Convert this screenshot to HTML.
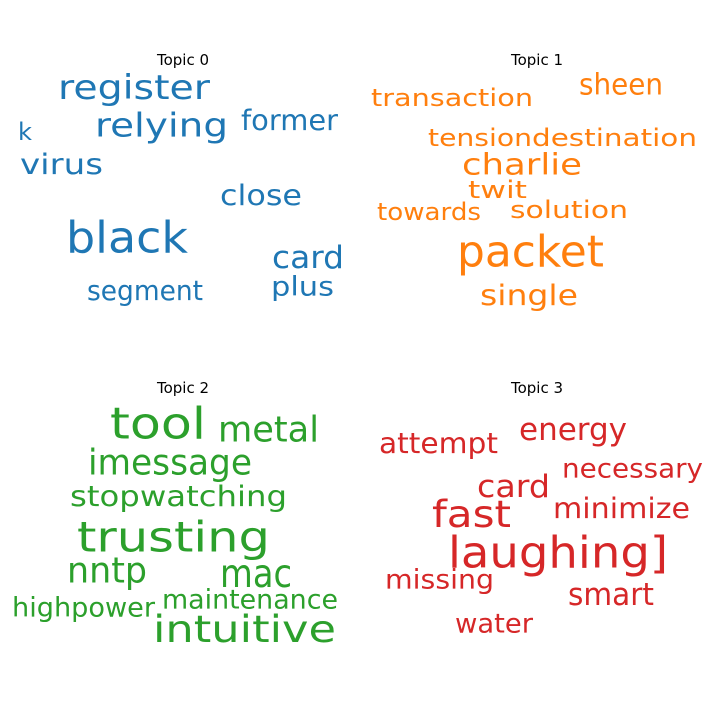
<!DOCTYPE html>
<html><head><meta charset="utf-8"><style>
html,body{margin:0;padding:0;background:#fff;width:720px;height:720px;overflow:hidden}
svg{display:block}
text{font-family:"DejaVu Sans","Liberation Sans",sans-serif}
</style></head><body>
<svg id="c" width="720" height="720" xmlns="http://www.w3.org/2000/svg"></svg>
<script>
const topicTitles=["Topic 0","Topic 1","Topic 2","Topic 3"];
const topicColors=["#1f77b4","#ff7f0e","#2ca02c","#d62728"];
const titleX=[183,537,183,537];
const titleY=[60,60,388,388];
const words0=["register","relying","former","k","virus","close","black","card","plus","segment"];
const sizes0=[31,30,26,22,26,26,40,28,24,25];
const box0=[[58,210,88],[95,228,125],[241,338,120],[18,32,132],[20,103,164],[220,302,195],[66,188,238],[272,344,258],[271,334,287],[87,203,291]];
const words1=["transaction","sheen","tension","destination","charlie","twit","towards","solution","packet","single"];
const sizes1=[22,27,22,22,27,22,22,22,40,26];
const box1=[[371,533,98],[579,663,85],[428,532,138],[532,697,138],[462,582,165],[468,527,190],[377,481,212],[510,628,210],[457,604,252],[480,578,295]];
const words2=["tool","metal","imessage","stopwatching","trusting","nntp","mac","highpower","maintenance","intuitive"];
const sizes2=[40,32,32,26,38,32,36,24,24,34];
const box2=[[110,206,424],[218,319,430],[88,252,463],[70,287,496],[77,270,537],[67,147,571],[220,292,574],[12,155,608],[162,338,600],[153,336,629]];
const words3=["attempt","energy","necessary","card","fast","minimize","laughing]","missing","smart","water"];
const sizes3=[26,28,24,28,34,26,40,24,28,24];
const box3=[[379,498,443],[519,627,430],[562,703,469],[477,550,487],[432,511,514],[553,690,508],[448,668,553],[385,494,580],[568,654,595],[455,533,624]];
const W=[words0,words1,words2,words3],S=[sizes0,sizes1,sizes2,sizes3],B=[box0,box1,box2,box3];
const scale=1.1;
const NS="http://www.w3.org/2000/svg",svg=document.getElementById('c');
for(let t=0;t<4;t++){
  const g=document.createElementNS(NS,'g');
  
  
  const ti=document.createElementNS(NS,'text');
  
  
  ti.setAttribute('x',titleX[t]);ti.setAttribute('y',titleY[t]);
  ti.setAttribute('text-anchor','middle');ti.setAttribute('dominant-baseline','central');
  ti.setAttribute('font-size','15');ti.setAttribute('fill','#000');
  ti.textContent=topicTitles[t];g.appendChild(ti);
  W[t].forEach((w,i)=>{
    const b=B[t][i];
    const e=document.createElementNS(NS,'text');
    
    
    e.setAttribute('x',b[0]);e.setAttribute('y',b[2]);
    e.setAttribute('dominant-baseline','central');
    e.setAttribute('font-size',S[t][i]*scale);
    e.setAttribute('fill',topicColors[t]);
    e.setAttribute('textLength',b[1]-b[0]);
    e.setAttribute('lengthAdjust','spacingAndGlyphs');
    e.textContent=w;g.appendChild(e);
  });
  svg.appendChild(g);
}
</script>
</body></html>
